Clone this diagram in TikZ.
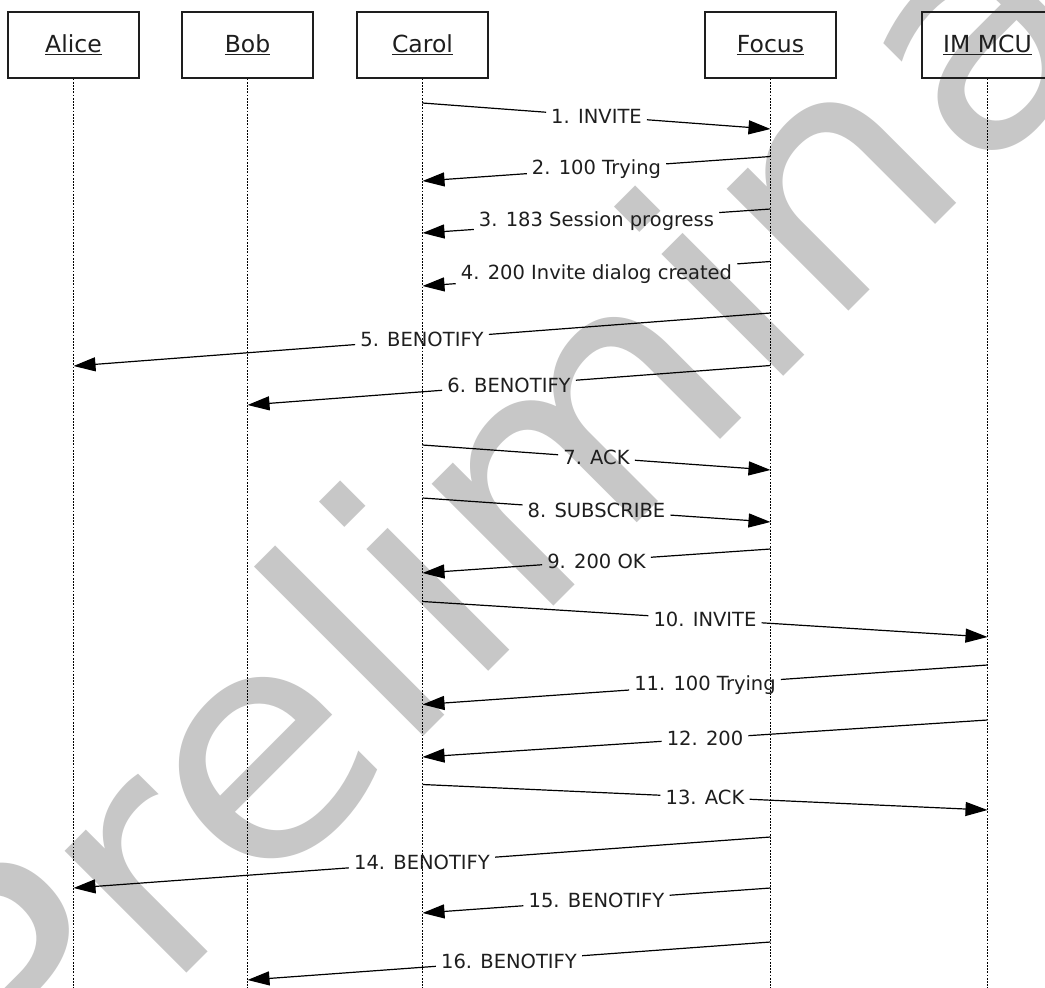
\documentclass[tikz,border=0pt]{standalone}
\usepackage{fontspec}
\setmainfont{DejaVu Sans}
\usetikzlibrary{arrows.meta}
\definecolor{wm}{RGB}{199,199,199}
\definecolor{ink}{RGB}{30,30,30}
\newcommand\mymsg[4]{%
  \path (#2) -- node[msgl] (#1) {#4} (#3);
  \draw[seg] (#2) -- (#1);
  \draw[msg] (#1) -- (#3);}
\begin{document}
\begin{tikzpicture}[x=1pt,y=-1pt,
  actor/.style={draw=ink, line width=1.2pt, minimum width=131pt, minimum height=66pt,
    font=\fontsize{23.5}{28}\selectfont, text=ink, inner sep=0pt},
  life/.style={line width=1.4pt, dash pattern=on 1.8pt off 1.4pt},
  msgl/.style={font=\fontsize{19.5}{23}\selectfont, text=ink, inner xsep=5pt, inner ysep=2pt},
  msg/.style={line width=1.2pt, draw=black, -{Triangle[length=22pt,width=14pt]}},
  seg/.style={line width=1.2pt, draw=black}
]
\clip (0,0) rectangle (1045,988);
\fill[white] (0,0) rectangle (1045,988);
\node[rotate=45, xscale=1.057, anchor=base west, text=wm, inner sep=0pt,
  font=\fontsize{315}{315}\selectfont] (wmark) at (27,1133) {Preliminary};

\node[actor] (alice) at (73.5,45) {\underline{Alice}};
\node[actor] (bob) at (247.5,45) {\underline{Bob}};
\node[actor] (carol) at (422.5,45) {\underline{Carol}};
\node[actor] (focus) at (770.5,45) {\underline{Focus}};
\node[actor] (mcu) at (987.5,45) {\underline{IM MCU}};

\coordinate (aliceE) at (73.5,990);
\coordinate (bobE) at (247.5,990);
\coordinate (carolE) at (422.5,990);
\coordinate (focusE) at (770.5,990);
\coordinate (mcuE) at (987.5,990);
\draw[life] (alice) -- (aliceE);
\draw[life] (bob) -- (bobE);
\draw[life] (carol) -- (carolE);
\draw[life] (focus) -- (focusE);
\draw[life] (mcu) -- (mcuE);

% endpoints
\coordinate (s1) at (422.5,103); \coordinate (e1) at (770.5,129);
\coordinate (s2) at (770.5,156.5); \coordinate (e2) at (422.5,181);
\coordinate (s3) at (770.5,209); \coordinate (e3) at (422.5,233);
\coordinate (s4) at (770.5,261.5); \coordinate (e4) at (422.5,286);
\coordinate (s5) at (770.5,313); \coordinate (e5) at (73.5,366);
\coordinate (s6) at (770.5,365.5); \coordinate (e6) at (247.5,405);
\coordinate (s7) at (422.5,445); \coordinate (e7) at (770.5,470);
\coordinate (s8) at (422.5,498); \coordinate (e8) at (770.5,522);
\coordinate (s9) at (770.5,549); \coordinate (e9) at (422.5,573);
\coordinate (s10) at (422.5,601.5); \coordinate (e10) at (987.5,637);
\coordinate (s11) at (987.5,665); \coordinate (e11) at (422.5,704.5);
\coordinate (s12) at (987.5,720); \coordinate (e12) at (422.5,757);
\coordinate (s13) at (422.5,784.5); \coordinate (e13) at (987.5,810);
\coordinate (s14) at (770.5,837); \coordinate (e14) at (73.5,888);
\coordinate (s15) at (770.5,888); \coordinate (e15) at (422.5,913);
\coordinate (s16) at (770.5,942); \coordinate (e16) at (247.5,980);

\mymsg{l1}{s1}{e1}{1. INVITE}
\mymsg{l2}{s2}{e2}{2. 100 Trying}
\mymsg{l3}{s3}{e3}{3. 183 Session progress}
\mymsg{l4}{s4}{e4}{4. 200 Invite dialog created}
\mymsg{l5}{s5}{e5}{5. BENOTIFY}
\mymsg{l6}{s6}{e6}{6. BENOTIFY}
\mymsg{l7}{s7}{e7}{7. ACK}
\mymsg{l8}{s8}{e8}{8. SUBSCRIBE}
\mymsg{l9}{s9}{e9}{9. 200 OK}
\mymsg{l10}{s10}{e10}{10. INVITE}
\mymsg{l11}{s11}{e11}{11. 100 Trying}
\mymsg{l12}{s12}{e12}{12. 200}
\mymsg{l13}{s13}{e13}{13. ACK}
\mymsg{l14}{s14}{e14}{14. BENOTIFY}
\mymsg{l15}{s15}{e15}{15. BENOTIFY}
\mymsg{l16}{s16}{e16}{16. BENOTIFY}
\end{tikzpicture}
\end{document}
